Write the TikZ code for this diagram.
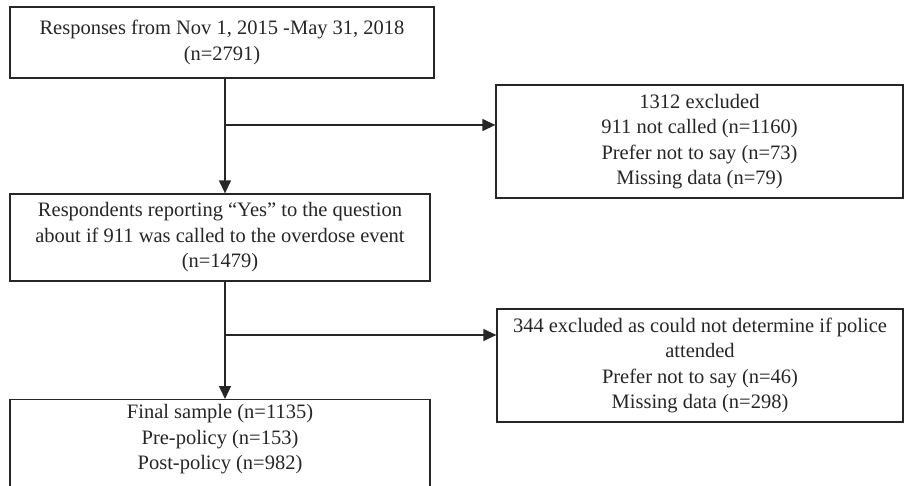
\documentclass[tikz,border=0pt]{standalone}
\usepackage{fontspec}
\setmainfont{Liberation Serif}
\usetikzlibrary{arrows.meta}
\begin{document}
\begin{tikzpicture}[x=1pt,y=-1pt,
  box/.style={draw=black!85, line width=1.3pt, rectangle, align=center, inner sep=0pt,
    text=black!85, font=\fontsize{20.5}{25.5}\selectfont},
  conn/.style={draw=black!85, line width=1.3pt},
  arr/.style={conn, -{Triangle[length=13pt,width=12pt]}}]
\useasboundingbox (0,0) rectangle (905,485);
\begin{scope}
\clip (0,0) rectangle (905,485);
\node[box, minimum width=424pt, minimum height=71pt] (top) at (222,42.5)
  {Responses from Nov 1, 2015 -May 31, 2018\\(n=2791)};
\node[box, minimum width=407pt, minimum height=113pt] (ex1) at (699.5,141.5)
  {1312 excluded\\911 not called (n=1160)\\Prefer not to say (n=73)\\Missing data (n=79)};
\node[box, minimum width=420pt, minimum height=87pt] (mid) at (220,237.5)
  {Respondents reporting “Yes” to the question\\about if 911 was called to the overdose event\\(n=1479)};
\node[box, minimum width=406pt, minimum height=113pt] (ex2) at (700,365.5)
  {344 excluded as could not determine if police\\attended\\Prefer not to say (n=46)\\Missing data (n=298)};
\node[box, minimum width=420pt, minimum height=100pt, anchor=north] (fin) at (220,399)
  {};
\node[align=center, text=black!85, font=\fontsize{20.5}{25.5}\selectfont, anchor=north] (fintext) at (220,401)
  {Final sample (n=1135)\\Pre-policy (n=153)\\Post-policy (n=982)};
\coordinate (b1) at (225,125);
\coordinate (b2) at (225,335);
\draw[arr] (top.south -| b1) -- (mid.north -| b1);
\draw[arr] (b1) -- (ex1.west |- b1);
\draw[arr] (mid.south -| b2) -- (fin.north -| b2);
\draw[arr] (b2) -- (ex2.west |- b2);
\end{scope}
\end{tikzpicture}
\end{document}
